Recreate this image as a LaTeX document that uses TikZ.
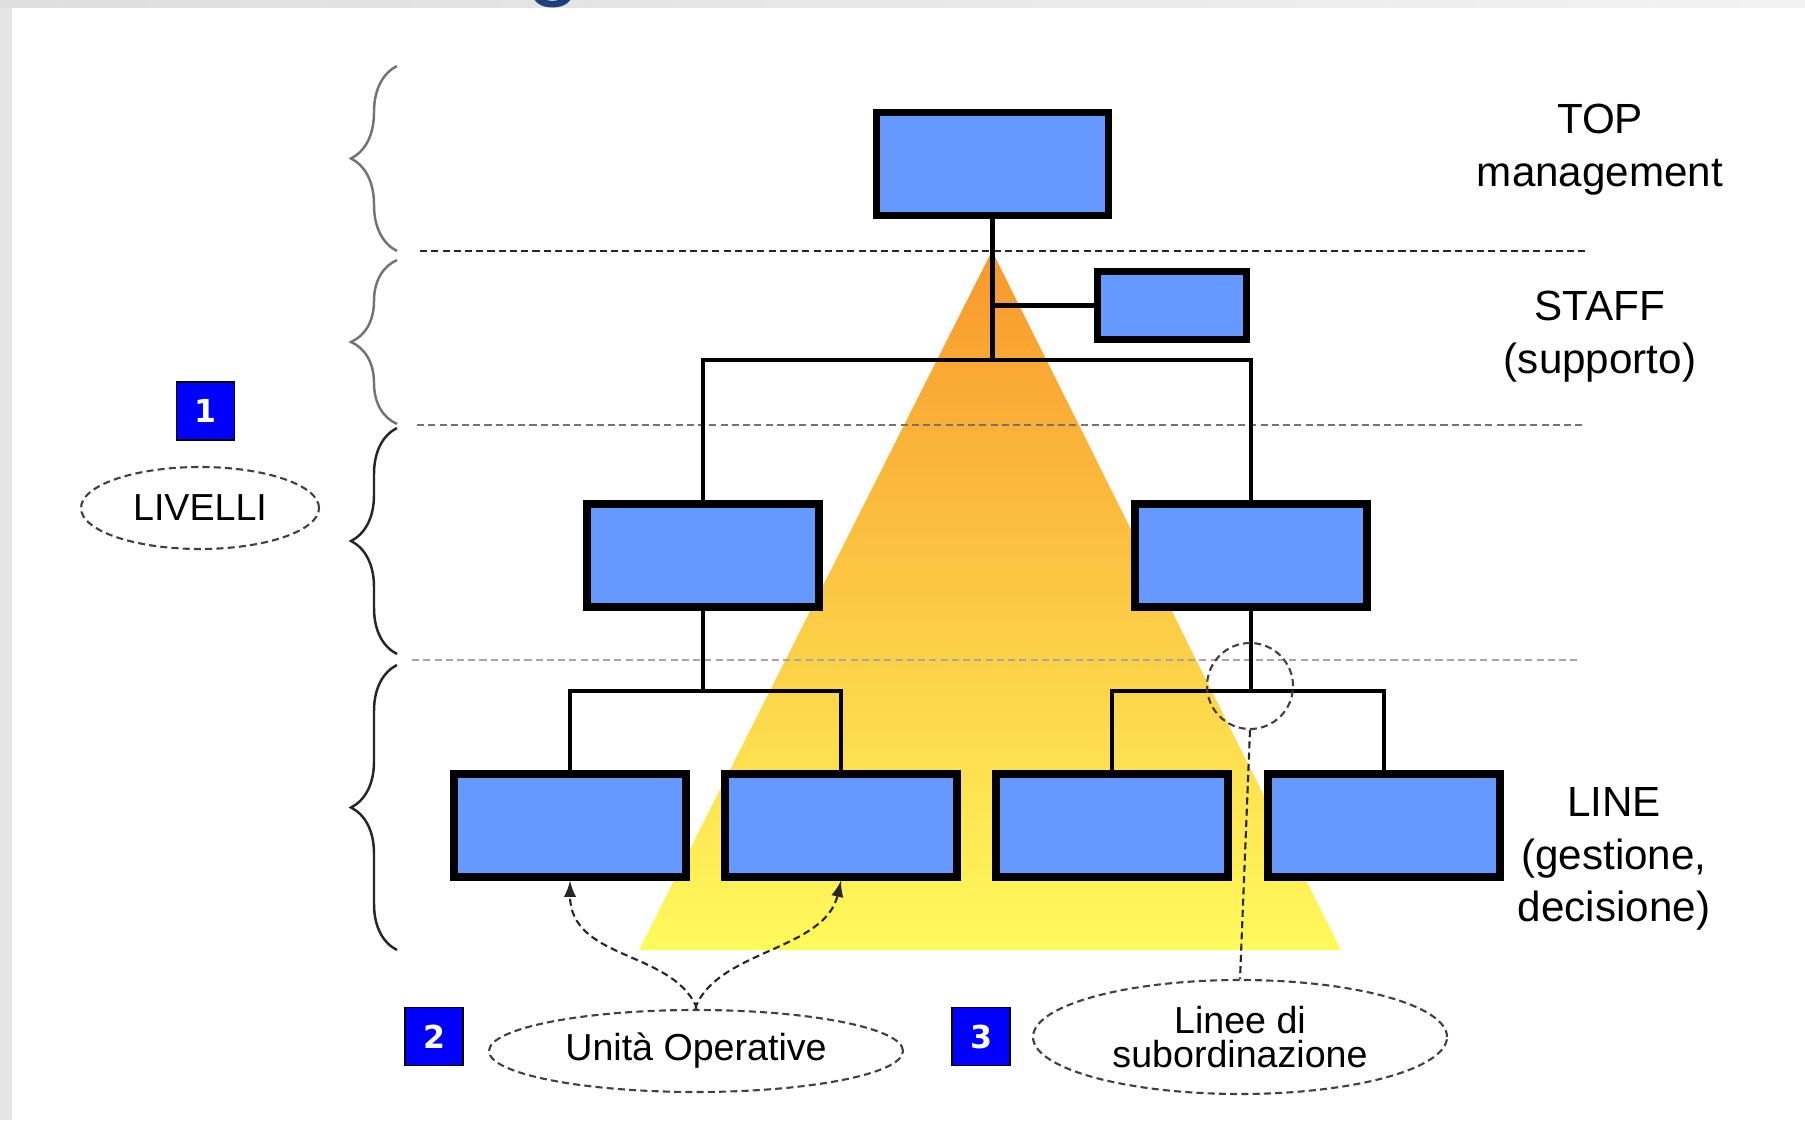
\documentclass[tikz,border=0pt]{standalone}
\usepackage{fontspec}
\setmainfont{Liberation Sans}
\newfontfamily\numfont{DejaVu Sans}
\usetikzlibrary{shapes.geometric,decorations.pathreplacing}
\definecolor{boxblue}{RGB}{102,153,255}
\definecolor{numblue}{RGB}{0,0,255}
\definecolor{triorange}{RGB}{248,152,44}
\definecolor{triyellow}{RGB}{255,250,92}
\definecolor{titleblue}{RGB}{31,62,122}
\tikzset{
  unitbox/.style = {draw, line width=2.1pt, fill=boxblue, inner sep=0pt,
                    minimum width=2.32cm, minimum height=1.03cm},
  staffbox/.style = {unitbox, minimum width=1.49cm, minimum height=0.68cm},
  link/.style = {line width=1.3pt},
  levelline/.style = {line width=0.6pt, dash pattern=on 2pt off 1.2pt},
  levelbrace/.style = {decorate, decoration={brace, amplitude=0.46cm}, line width=0.7pt},
  numbox/.style = {draw, fill=numblue, text=white, minimum size=0.58cm, inner sep=0pt,
                   font=\numfont\fontsize{9}{10}\selectfont\bfseries},
  callout/.style = {ellipse, draw=black!75, line width=0.6pt, dash pattern=on 2pt off 1.2pt,
                    inner sep=0pt, align=center, font=\fontsize{10.7}{9.6}\selectfont},
  callarrow/.style = {draw=black!85, line width=0.6pt, dash pattern=on 2pt off 1.2pt, -latex},
  sidelabel/.style = {align=center, font=\fontsize{12}{15}\selectfont}
}

\begin{document}
\begin{tikzpicture}
    \useasboundingbox (0,0) rectangle (18.05,11.2);
    % Slide frame and cut title
    \fill[black!10] (0,0) rectangle (0.115,11.2);
    \shade[left color=black!13, right color=black!5] (0,11.12) rectangle (18.05,11.2);
    \begin{scope}
      \clip (0,0) rectangle (18.05,11.2);
      \node[text=titleblue, font=\fontsize{28}{30}\selectfont, anchor=base] (titlefrag) at (5.54,11.32) {g};
    \end{scope}
    % Hierarchy triangle
    \shade[top color=triorange, bottom color=triyellow] (9.92,8.69) -- (6.39,1.70) -- (13.41,1.70) -- cycle;
    % Level separators
    \foreach \ylev/\xa/\xb/\tone in {8.69/4.20/15.86/black!85, 6.95/4.17/15.84/black!55, 4.60/4.12/15.80/black!35}
    \draw[levelline, \tone] (\xa,\ylev) -- (\xb,\ylev);
    % Braces on the left
    \foreach \ylow/\yhigh/\tone in {8.69/10.54/black!55, 6.96/8.60/black!55, 4.66/6.92/black!85, 1.70/4.55/black!85}
    \draw[levelbrace, \tone] (3.97,\ylow) -- (3.97,\yhigh);
    % Units
    \node[unitbox] (top) at (9.925,9.56) {};
    \node[staffbox] (staff) at (11.72,8.145) {};
    \node[unitbox] (midL) at (7.03,5.645) {};
    \node[unitbox] (midR) at (12.51,5.645) {};
    \foreach \name/\xpos in {lineA/5.70, lineB/8.41, lineC/11.12, lineD/13.84}
    \node[unitbox] (\name) at (\xpos,2.945) {};
    % Subordination lines
    \coordinate (topjoin) at (9.925,7.60);
    \coordinate (leftjoin) at (7.03,4.29);
    \coordinate (rightjoin) at (12.51,4.29);
    \draw[link] (top.south) -- (topjoin);
    \draw[link] (staff.west) -- (staff.west -| top.south);
    \draw[link] (midL.north) |- (topjoin) -| (midR.north);
    \draw[link] (midL.south) -- (leftjoin);
    \draw[link] (lineA.north) |- (leftjoin) -| (lineB.north);
    \draw[link] (midR.south) -- (rightjoin);
    \draw[link] (lineC.north) |- (rightjoin) -| (lineD.north);
    % Level names
    \node[sidelabel] (toplabel) at (16.00,9.70) {TOP\\management};
    \node[sidelabel] (stafflabel) at (16.00,7.83) {STAFF\\(supporto)};
    \node[sidelabel] (linelabel) at (16.14,2.61) {LINE\\(gestione,\\decisione)};
    % Numbered callouts
    \node[numbox] (num1) at (2.055,7.09) {1};
    \node[numbox] (num2) at (4.34,0.835) {2};
    \node[numbox] (num3) at (9.81,0.835) {3};
    \node[callout, minimum width=2.38cm, minimum height=0.82cm] (livelli) at (2.00,6.12) {LIVELLI};
    \node[callout, minimum width=4.14cm, minimum height=0.82cm] (unita) at (6.96,0.69) {Unità Operative};
    \node[callout, minimum width=4.14cm, minimum height=1.14cm] (linee) at (12.40,0.83) {Linee di\\subordinazione};
    \node[circle, draw=black!75, line width=0.6pt, dash pattern=on 2pt off 1.2pt,
          minimum size=0.86cm, inner sep=0pt] (focus) at (12.50,4.34) {};
    % Pointers
    \draw[callarrow] (unita.north) -- ++(0,0.03) .. controls (6.7,1.7) and (5.7,1.6) .. (lineA.south);
    \draw[callarrow] (unita.north) -- ++(0,0.03) .. controls (7.2,1.7) and (8.25,1.7) .. (lineB.south);
    \draw[callarrow, -] (focus.south) -- (linee.north);
\end{tikzpicture}
\end{document}
